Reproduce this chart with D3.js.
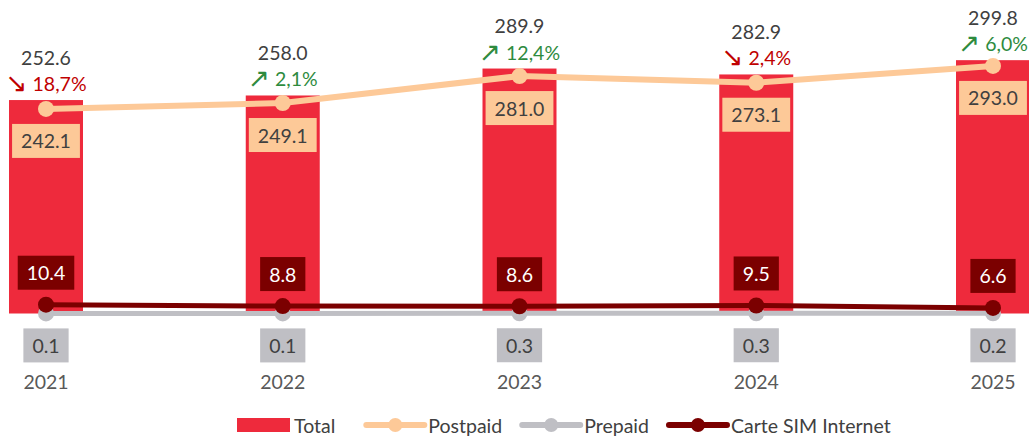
<!DOCTYPE html>
<html>
<head>
<meta charset="utf-8">
<script src="https://cdn.jsdelivr.net/npm/d3@7"></script>
<style>
  html, body { margin: 0; padding: 0; background: #fff; }
  svg { display: block; font-family: Lato, "Open Sans", sans-serif; }
</style>
</head>
<body>
<svg id="chart" width="1029" height="441"></svg>
<script>
// Subscriber counts (thousands) per year
const years      = ["2021", "2022", "2023", "2024", "2025"];
const total      = [252.6, 258.0, 289.9, 282.9, 299.8];
const postpaid   = [242.1, 249.1, 281.0, 273.1, 293.0];
const prepaid    = [0.1, 0.1, 0.3, 0.3, 0.2];
const simInternet = [10.4, 8.8, 8.6, 9.5, 6.6];
// Year-on-year change of the total
const growthText = ["18,7%", "2,1%", "12,4%", "2,4%", "6,0%"];
const growthDir  = ["down", "up", "up", "down", "up"];

const C = {
  bar: "#ee2a3c",
  post: "#fdc998",
  pre: "#bfbfc4",
  sim: "#7b0000",
  text: "#404040",
  axis: "#595959",
  down: "#c00000",
  up: "#2e8b3e"
};
const FS = 19.5;

const svg = d3.select("#chart");
const x = d3.scalePoint().domain(years).range([46, 993]);
const y = d3.scaleLinear().domain([0, 300]).range([313.5, 60]);
const barW = 74;

// Total bars
svg.append("g").selectAll("rect").data(years).join("rect")
  .attr("x", d => x(d) - barW / 2)
  .attr("y", (d, i) => y(total[i]))
  .attr("width", barW)
  .attr("height", (d, i) => y(0) - y(total[i]))
  .attr("fill", C.bar);

// Total value and growth labels above bars
svg.append("g").selectAll("text").data(years).join("text")
  .attr("x", d => x(d))
  .attr("y", (d, i) => y(total[i]) - 43)
  .attr("text-anchor", "middle").attr("dominant-baseline", "central")
  .attr("font-size", FS).attr("fill", C.text)
  .text((d, i) => total[i].toFixed(1));

const growth = svg.append("g").selectAll("text").data(years).join("text")
  .attr("x", d => x(d))
  .attr("y", (d, i) => y(total[i]) - 17)
  .attr("text-anchor", "middle").attr("dominant-baseline", "central")
  .attr("font-size", FS)
  .attr("fill", (d, i) => growthDir[i] === "up" ? C.up : C.down);
growth.append("tspan")
  .attr("font-size", FS * 1.35).attr("font-family", "DejaVu Sans")
  .text((d, i) => growthDir[i] === "up" ? "\u2197" : "\u2198");
growth.append("tspan").text((d, i) => " " + growthText[i]);

// Line series
const line = vals => d3.line().x((d, i) => x(years[i])).y(d => y(d))(vals);
function drawSeries(vals, color, width, r) {
  const g = svg.append("g");
  g.append("path").attr("d", line(vals)).attr("fill", "none")
    .attr("stroke", color).attr("stroke-width", width).attr("stroke-linejoin", "round");
  g.selectAll("circle").data(vals).join("circle")
    .attr("cx", (d, i) => x(years[i])).attr("cy", d => y(d)).attr("r", r)
    .attr("fill", color);
}
drawSeries(prepaid, C.pre, 5, 8);
drawSeries(simInternet, C.sim, 5, 8);
drawSeries(postpaid, C.post, 6, 8);

// Boxed data labels
function boxLabels(vals, dy, fill, color) {
  const g = svg.append("g");
  vals.forEach((v, i) => {
    const cx = x(years[i]), cy = y(v) + dy;
    const t = g.append("text").attr("x", cx).attr("y", cy)
      .attr("text-anchor", "middle").attr("dominant-baseline", "central")
      .attr("font-size", FS).attr("fill", color).text(v.toFixed(1));
    const w = t.node().getBBox().width + 18;
    g.insert("rect", "text").attr("x", cx - w / 2).attr("y", cy - 17)
      .attr("width", w).attr("height", 34).attr("fill", fill);
  });
}
boxLabels(postpaid, 32, C.post, C.text);
boxLabels(simInternet, -32, C.sim, "#ffffff");
boxLabels(prepaid, 32, C.pre, C.text);

// Category axis labels
svg.append("g").selectAll("text").data(years).join("text")
  .attr("x", d => x(d)).attr("y", 381)
  .attr("text-anchor", "middle").attr("dominant-baseline", "central")
  .attr("font-size", FS).attr("fill", C.axis).text(d => d);

// Legend
const legend = svg.append("g");
const ly = 425;
let lx = 237;
const items = [
  { name: "Total", type: "bar", color: C.bar },
  { name: "Postpaid", type: "line", color: C.post },
  { name: "Prepaid", type: "line", color: C.pre },
  { name: "Carte SIM Internet", type: "line", color: C.sim }
];
items.forEach((it, k) => {
  if (k > 0) lx += (k === 1 ? 31 : 20);
  if (it.type === "bar") {
    legend.append("rect").attr("x", lx).attr("y", ly - 7).attr("width", 53).attr("height", 14).attr("fill", it.color);
  } else {
    legend.append("line").attr("x1", lx).attr("x2", lx + 58).attr("y1", ly).attr("y2", ly)
      .attr("stroke", it.color).attr("stroke-width", 6).attr("stroke-linecap", "round");
    legend.append("circle").attr("cx", lx + 29).attr("cy", ly).attr("r", 7).attr("fill", it.color);
  }
  lx += (it.type === "bar" ? 53 : 58) + 4;
  const t = legend.append("text").attr("x", lx).attr("y", ly)
    .attr("dominant-baseline", "central").attr("font-size", FS).attr("fill", C.text).text(it.name);
  lx += t.node().getBBox().width;
});
</script>
</body>
</html>
